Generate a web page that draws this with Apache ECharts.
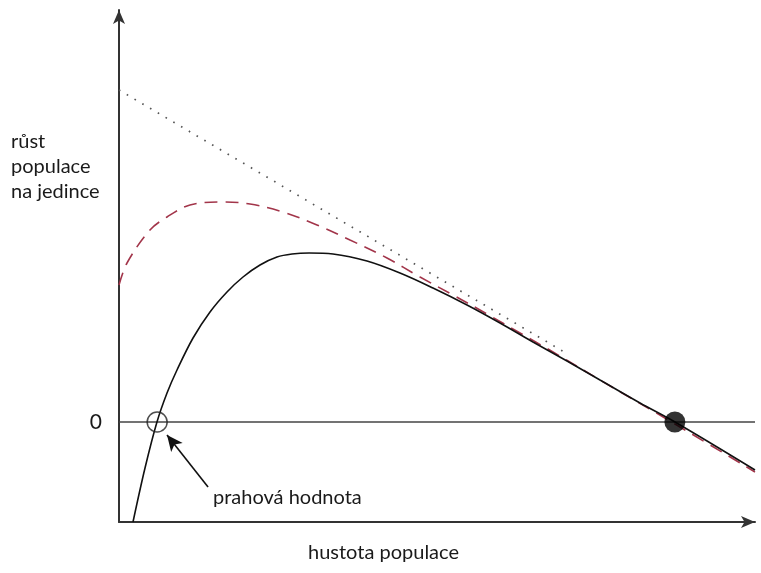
<!DOCTYPE html>
<html>
<head>
<meta charset="utf-8">
<script src="https://cdn.jsdelivr.net/npm/echarts@6/dist/echarts.min.js"></script>
<style>
  html, body { margin: 0; padding: 0; background: #fff; }
  #chart { width: 761px; height: 573px; }
</style>
</head>
<body>
<div id="chart"></div>
<script>
// Per-capita growth vs. population density (Allee effect sketch)
const xMin = 0, xMax = 100;
const yMin = -1, yMax = 4.12;

// Strong Allee effect: growth negative below the threshold density
const alleeCurve = [
  [2.2, -1.0], [4.09, -0.46], [5.97, 0], [7.55, 0.29], [9.12, 0.52],
  [11.64, 0.84], [14.31, 1.1], [16.98, 1.3], [19.5, 1.45], [22.17, 1.57],
  [24.84, 1.65], [27.2, 1.68], [29.9, 1.69], [33.65, 1.68], [38.99, 1.61],
  [44.18, 1.49], [49.37, 1.34], [54.72, 1.17], [59.91, 0.99], [65.09, 0.8],
  [70.44, 0.61], [75.63, 0.42], [81.92, 0.19], [87.42, 0], [100, -0.48]
];

// Weak Allee effect: growth reduced at low density but stays positive
const weakCurve = [
  [0, 1.37], [1.26, 1.59], [4.87, 1.92], [7.55, 2.05], [11.16, 2.17],
  [16.35, 2.2], [20.6, 2.18], [25.79, 2.1], [31.13, 1.97], [36.32, 1.82],
  [42.14, 1.64], [47.33, 1.45], [52.52, 1.27], [57.86, 1.08], [63.05, 0.89],
  [68.24, 0.7], [75.63, 0.42], [87.42, -0.02], [100, -0.5]
];

// Logistic growth: per-capita rate falls linearly with density
const logisticLine = [[0, 3.32], [70, 0.7]];

const zeroLine = [[0, 0], [100, 0]];
const thresholdPoint = [[6.0, 0]];   // unstable equilibrium
const capacityPoint = [[87.4, 0]];   // stable equilibrium (carrying capacity)
const pointerArrow = [[14.0, -0.65], [7.55, -0.13]];

const yTickLabels = { 0: '0' };

const font = 'Lato, "Open Sans", sans-serif';
const chart = echarts.init(document.getElementById('chart'));

chart.setOption({
  animation: false,
  backgroundColor: '#ffffff',
  grid: { left: 119, right: 6, top: 10, bottom: 51 },
  xAxis: {
    type: 'value', min: xMin, max: xMax,
    axisLine: {
      onZero: false,
      lineStyle: { color: '#333', width: 2 },
      symbol: ['none', 'arrow'], symbolSize: [9, 14], symbolOffset: [0, 0]
    },
    axisTick: { show: false }, axisLabel: { show: false }, splitLine: { show: false }
  },
  yAxis: {
    type: 'value', min: yMin, max: yMax, interval: 1,
    axisLine: {
      onZero: false,
      lineStyle: { color: '#333', width: 2 },
      symbol: ['none', 'arrow'], symbolSize: [9, 14], symbolOffset: [0, 0]
    },
    axisTick: { show: false },
    axisLabel: {
      margin: 17, fontSize: 21, color: '#1a1a1a', fontFamily: font,
      formatter: v => (yTickLabels[v] !== undefined ? yTickLabels[v] : '')
    },
    splitLine: { show: false }
  },
  series: [
    {
      type: 'line', data: zeroLine, symbol: 'none', silent: true,
      lineStyle: { color: '#444', width: 1.6 }, z: 1
    },
    {
      type: 'line', data: logisticLine, symbol: 'none',
      lineStyle: { color: '#555', width: 1.7, type: [1.6, 7.4] }, z: 2
    },
    {
      type: 'line', data: weakCurve, symbol: 'none', smooth: 0.35,
      lineStyle: { color: '#a2354a', width: 1.6, type: [13, 8] }, z: 3
    },
    {
      type: 'line', data: alleeCurve, symbol: 'none', smooth: 0.35,
      lineStyle: { color: '#111', width: 1.6 }, z: 4,
      markLine: {
        silent: true, symbol: ['none', 'arrow'], symbolSize: [11, 16],
        label: { show: false },
        lineStyle: { color: '#111', width: 1.6, type: 'solid' },
        data: [[{ coord: pointerArrow[0] }, { coord: pointerArrow[1] }]]
      }
    },
    {
      type: 'scatter', data: thresholdPoint, symbol: 'circle', symbolSize: 20,
      itemStyle: { color: 'rgba(0,0,0,0)', borderColor: '#222', borderWidth: 1.5 }, z: 5
    },
    {
      type: 'scatter', data: capacityPoint, symbol: 'circle', symbolSize: 21,
      itemStyle: { color: '#000' }, z: 5
    }
  ],
  graphic: [
    {
      type: 'text', left: 11, top: 129,
      style: {
        text: 'růst\npopulace\nna jedince', fontSize: 20, lineHeight: 25,
        fill: '#1a1a1a', fontFamily: font
      }
    },
    {
      type: 'text', left: 213, top: 488,
      style: { text: 'prahová hodnota', fontSize: 20, fill: '#1a1a1a', fontFamily: font }
    },
    {
      type: 'text', left: 308, top: 543,
      style: { text: 'hustota populace', fontSize: 20, fill: '#1a1a1a', fontFamily: font }
    }
  ]
});
</script>
</body>
</html>
